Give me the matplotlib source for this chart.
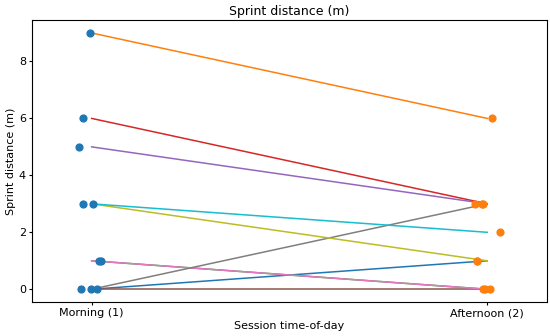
import numpy as np
import matplotlib
matplotlib.use("Agg")
import matplotlib.pyplot as plt

# paired sprint distances, one line per athlete
morning = [0, 9, 1, 6, 5, 0, 1, 0, 3, 3]
afternoon = [1, 6, 0, 3, 3, 0, 0, 3, 1, 2]

# strip jitter
morning_jitter = [0.0125, -0.005, 0.018, -0.021, -0.032, -0.002, 0.023, -0.0275, 0.0025, -0.022]
afternoon_jitter = [-0.027, 0.012, -0.006, -0.013, -0.011, 0.008, -0.011, -0.030, -0.025, 0.032]

categories = ["Morning (1)", "Afternoon (2)"]

plt.rcParams["font.size"] = 8

fig = plt.figure(figsize=(5.5, 3.36), dpi=100)
ax = fig.add_axes([0.0587, 0.101, 0.935, 0.839])

for i in range(len(morning)):
    ax.plot([0, 1], [morning[i], afternoon[i]], color=f"C{i}", linewidth=1.1, zorder=1)

ax.scatter(np.zeros(len(morning)) + morning_jitter, morning, s=24, color="#1f77b4", zorder=3)
ax.scatter(np.ones(len(afternoon)) + afternoon_jitter, afternoon, s=24, color="#ff7f0e", zorder=3)

ax.set_xticks([0, 1])
ax.set_xticklabels(categories)
ax.set_xlim(-0.15, 1.15)
ax.set_ylim(-0.45, 9.45)
ax.tick_params(length=2.5, pad=2)
ax.set_xlabel("Session time-of-day", labelpad=2)
ax.set_ylabel("Sprint distance (m)", labelpad=2)
ax.set_title("Sprint distance (m)", fontsize=9, pad=4)

fig.savefig("out.png", dpi=100)
